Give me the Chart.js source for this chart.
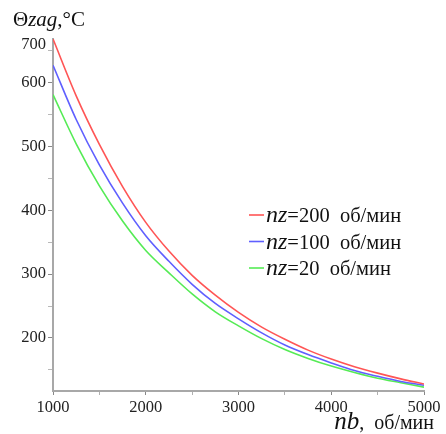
<!DOCTYPE html>
<html>
<head>
<meta charset="utf-8">
<script src="https://cdn.jsdelivr.net/npm/chart.js@4"></script>
<style>
  html, body { margin: 0; padding: 0; background: #fff; }
  #wrap { width: 446px; height: 434px; position: relative; }
</style>
</head>
<body>
<div id="wrap"><canvas id="chart"></canvas></div>
<script>
// rotor speed nb, rpm
var speeds = [1000, 1250, 1500, 1750, 2000, 2250, 2500, 2750, 3000, 3250, 3500, 3750, 4000, 4250, 4500, 4750, 5000];
// temperature for each nz
var tempNz200 = [668, 579, 503, 437, 381, 336, 298, 267, 240, 217, 198, 181, 167, 155, 145, 136, 128];
var tempNz100 = [627, 542, 471, 411, 360, 320, 284, 254, 230, 208, 189, 174, 161, 149, 140, 132, 126];
var tempNz20  = [581, 504, 438, 383, 337, 302, 269, 241, 219, 199, 182, 168, 156, 146, 137, 130, 123];
var nzValues = ['200', '100', '20'];
var xTicks = [1000, 1500, 2000, 2500, 3000, 3500, 4000, 4500, 5000];
var yTicks = [150, 200, 250, 300, 350, 400, 450, 500, 550, 600, 650];
var yTopLabel = '700';

var SERIF = '"Liberation Serif", "DejaVu Serif", serif';
var AXIS = '#a8a8a8';
var TOP_TICK = 659; // where the top "700" label sits, just under the axis end

function points(vals) {
    return speeds.map(function(n, i) { return {x: n, y: vals[i]}; });
}

function line(label, vals, color) {
    return {
        label: label,
        data: points(vals),
        borderColor: color,
        borderWidth: 1.6,
        pointRadius: 0,
        fill: false,
        cubicInterpolationMode: 'monotone'
    };
}

// draws mixed roman/italic text pieces, returns end x
function drawRuns(ctx, runs, x, y) {
    runs.forEach(function(r) {
        ctx.font = r.font;
        ctx.fillText(r.text, x, y);
        x += ctx.measureText(r.text).width;
    });
    return x;
}

function runsWidth(ctx, runs) {
    var w = 0;
    runs.forEach(function(r) { ctx.font = r.font; w += ctx.measureText(r.text).width; });
    return w;
}

var labelsPlugin = {
    id: 'labels',
    afterDraw: function(chart) {
        var ctx = chart.ctx;
        ctx.save();
        ctx.fillStyle = '#111';
        ctx.textBaseline = 'alphabetic';
        ctx.textAlign = 'left';

        // y axis title
        drawRuns(ctx, [
            {text: 'Θ', font: '21px ' + SERIF},
            {text: 'zag', font: 'italic 21px ' + SERIF},
            {text: ',°C', font: '21px ' + SERIF}
        ], 13, 26);

        // x axis title, right aligned
        var xt = [
            {text: 'nb', font: 'italic 25px ' + SERIF},
            {text: ',  об/мин', font: '20px ' + SERIF}
        ];
        drawRuns(ctx, xt, 434 - runsWidth(ctx, xt), 429);

        // legend
        chart.data.datasets.forEach(function(ds, i) {
            var cy = 215 + i * 26.5;
            ctx.strokeStyle = ds.borderColor;
            ctx.lineWidth = 1.6;
            ctx.beginPath();
            ctx.moveTo(249, cy);
            ctx.lineTo(264, cy);
            ctx.stroke();
            ctx.fillStyle = '#111';
            drawRuns(ctx, [
                {text: 'nz', font: 'italic 24px ' + SERIF},
                {text: '=' + ds.label + '  об/мин', font: '20.5px ' + SERIF}
            ], 266, cy + 7);
        });
        ctx.restore();
    }
};

new Chart(document.getElementById('chart'), {
    type: 'line',
    data: {
        datasets: [
            line(nzValues[0], tempNz200, 'rgb(255,85,85)'),
            line(nzValues[1], tempNz100, 'rgb(95,95,255)'),
            line(nzValues[2], tempNz20, 'rgb(85,235,85)')
        ]
    },
    options: {
        responsive: true,
        maintainAspectRatio: false,
        animation: false,
        layout: { padding: {left: 0, top: 39, right: 22, bottom: 0} },
        plugins: { legend: {display: false}, tooltip: {enabled: false} },
        scales: {
            x: {
                type: 'linear',
                min: 1000,
                max: 5000,
                afterBuildTicks: function(s) { s.ticks = xTicks.map(function(v) { return {value: v}; }); },
                afterFit: function(s) { s.height = 43; },
                border: { display: true, color: AXIS, width: 2 },
                grid: {
                    drawOnChartArea: false,
                    drawTicks: true,
                    tickLength: 4,
                    tickColor: function(c) { return c.tick && c.tick.value % 1000 === 0 ? '#888' : '#b0b0b0'; }
                },
                ticks: {
                    padding: 3,
                    color: '#222',
                    font: { family: SERIF, size: 16.5 },
                    maxRotation: 0,
                    autoSkip: false,
                    callback: function(v) { return v % 1000 === 0 ? String(v) : ''; }
                }
            },
            y: {
                type: 'linear',
                min: 117,
                max: 668,
                afterBuildTicks: function(s) {
                    var t = yTicks.map(function(v) { return {value: v}; });
                    t.push({value: TOP_TICK});
                    s.ticks = t;
                },
                afterFit: function(s) { s.width = 53; },
                border: { display: true, color: AXIS, width: 2 },
                grid: {
                    drawOnChartArea: false,
                    drawTicks: true,
                    tickLength: 5,
                    tickColor: function(c) {
                        if (!c.tick) return '#888';
                        if (c.tick.value === TOP_TICK) return 'rgba(0,0,0,0)';
                        return c.tick.value % 100 === 0 ? '#888' : '#b8b8b8';
                    }
                },
                ticks: {
                    padding: 2,
                    color: '#222',
                    font: { family: SERIF, size: 16.5 },
                    autoSkip: false,
                    callback: function(v) {
                        if (v === TOP_TICK) return yTopLabel;
                        return v % 100 === 0 ? String(v) : '';
                    }
                }
            }
        }
    },
    plugins: [labelsPlugin]
});
</script>
</body>
</html>
